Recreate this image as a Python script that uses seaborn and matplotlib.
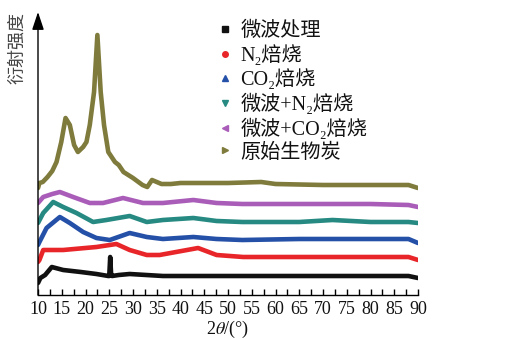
import numpy as np
import pandas as pd
import matplotlib
matplotlib.use("Agg")
import matplotlib.pyplot as plt
import seaborn as sns
from matplotlib.lines import Line2D

sns.set_theme(style="white")
plt.rcParams["font.family"] = ["Liberation Serif", "Noto Sans CJK SC", "DejaVu Sans"]
plt.rcParams["mathtext.fontset"] = "stix"

# ---------------- data ----------------
series_names = ["微波处理", "N₂焙烧", "CO₂焙烧", "微波+N₂焙烧", "微波+CO₂焙烧", "原始生物炭"]
series_colors = ["#111111", "#e8262a", "#2550a8", "#268a82", "#a95db8", "#7f7b3c"]
series_markers = ["s", "o", "^", "v", "<", ">"]

mw_x = [10, 10.5, 11.5, 12.9, 15.3, 19, 22.3, 24.8, 25.0, 25.2, 25.4, 25.6, 27, 29.3, 36.3, 45, 55, 70, 88, 90]
mw_y = [12, 17, 20, 28, 25, 23, 21, 19, 19, 38, 20, 19, 20, 21, 19, 19, 19, 19, 19, 17]

n2_x = [10, 10.3, 11.1, 15.3, 22.3, 26.5, 29.3, 32.9, 35.6, 43.7, 47.6, 53.2, 65, 80, 88, 90]
n2_y = [33, 35, 45, 45, 48, 51, 45, 40, 40, 47, 40, 38, 38, 38, 38, 35]

co2_x = [10, 10.3, 11.8, 14.6, 16.7, 19.5, 22.3, 25.1, 29.3, 32.9, 36.3, 42.7, 47.6, 53, 65, 80, 88, 90]
co2_y = [50, 53, 67, 78, 72, 63, 57, 55, 62, 58, 56, 58, 56, 55, 56, 56, 56, 52]

mwn2_x = [10, 11.1, 13.2, 15.3, 18.1, 21.6, 24.4, 29.3, 32.9, 36.3, 42.7, 47.6, 53, 65, 72, 80, 88, 90]
mwn2_y = [72, 82, 93, 88, 82, 73, 75, 79, 73, 75, 77, 74, 73, 73, 75, 73, 73, 72]

mwco2_x = [10, 11.1, 13, 14.6, 17.4, 20.9, 23.7, 27.9, 32.1, 36.3, 42.7, 47.6, 53, 65, 80, 88, 90]
mwco2_y = [92, 98, 101, 103, 98, 92, 92, 97, 92, 92, 95, 92, 91, 91, 91, 90, 88]

raw_x = [10, 10.3, 11, 12, 13, 13.9, 14.9, 15.8, 16.7, 17.6, 18.4, 19.5, 20.2, 20.9, 21.8, 22.5,
         23.2, 23.9, 24.8, 26.2, 27, 28, 30, 32, 33, 34, 35, 36, 38, 40, 45, 50, 57, 60, 70, 80, 88, 90]
raw_y = [107, 112, 113, 118, 124, 133, 153, 177, 170, 150, 143, 148, 153, 170, 203, 260,
         203, 170, 143, 133, 130, 123, 117, 110, 108, 115, 113, 111, 111, 112, 112, 112, 113, 111, 110, 110, 110, 107]

x_ticks = list(range(10, 91, 5))
x_label = "2$\\theta$/(°)"
y_label = "衍射强度"

xs = [mw_x, n2_x, co2_x, mwn2_x, mwco2_x, raw_x]
ys = [mw_y, n2_y, co2_y, mwn2_y, mwco2_y, raw_y]
frames = []
for name, x, y in zip(series_names, xs, ys):
    frames.append(pd.DataFrame({"two_theta": x, "intensity": y, "sample": name}))
df = pd.concat(frames, ignore_index=True)

# ---------------- figure ----------------
W, H = 523, 339
fig = plt.figure(figsize=(W / 100, H / 100), dpi=100)
fig.patch.set_facecolor("white")
ax = fig.add_axes([38 / W, 44 / H, 380 / W, 283 / H])
ax.set_facecolor("white")

sns.lineplot(data=df, x="two_theta", y="intensity", hue="sample",
             hue_order=series_names, palette=dict(zip(series_names, series_colors)),
             linewidth=3.3, legend=False, ax=ax, sort=False, estimator=None)

ax.set_xlim(10, 90)
ax.set_ylim(0, 283)
ax.set_xticks(x_ticks)
ax.set_xticks(np.arange(12.5, 90, 5), minor=True)
ax.set_yticks([])
for s in ["top", "right", "left"]:
    ax.spines[s].set_visible(False)
ax.spines["bottom"].set_color("black")
ax.spines["bottom"].set_linewidth(1.0)
ax.tick_params(axis="x", which="both", direction="in", length=4, width=1,
               color="black", bottom=True, labelsize=13, pad=4, labelcolor="#111111")
ax.set_xlabel(x_label, fontsize=13, labelpad=1, color="#111111")
ax.set_ylabel("")

# y-axis with arrow
ax.annotate("", xy=(0, 1), xycoords="axes fraction", xytext=(0, 0), textcoords="axes fraction",
            arrowprops=dict(arrowstyle="-|>,head_length=0.9,head_width=0.3", lw=1.0,
                            color="black", shrinkA=0, shrinkB=0), annotation_clip=False)

fig.text(18 / W, 1 - 12 / H, y_label, rotation=90, ha="center", va="top",
         fontsize=13, color="#444444")

handles = [Line2D([], [], linestyle="none", marker=m, color=c, markersize=4)
           for m, c in zip(series_markers, series_colors)]
leg = ax.legend(handles, series_names, loc="upper left",
                bbox_to_anchor=(219 / W, 1 - 22 / H), bbox_transform=fig.transFigure,
                frameon=False, fontsize=14.5, handlelength=0.6, handletextpad=0.45,
                labelspacing=0.18, borderpad=0, borderaxespad=0)
for t in leg.get_texts():
    t.set_color("#111111")

fig.savefig("out.png", dpi=100)
